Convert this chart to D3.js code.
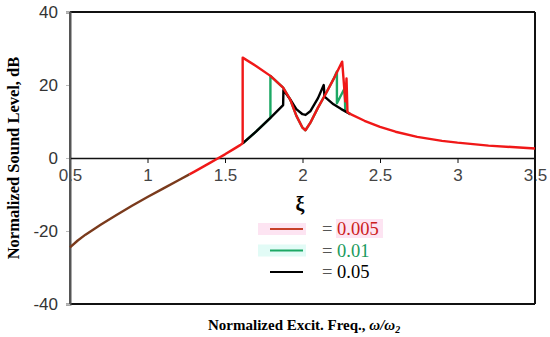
<!DOCTYPE html>
<html>
<head>
<meta charset="utf-8">
<script src="https://cdn.jsdelivr.net/npm/d3@7"></script>
<style>
  body { margin: 0; background: #fff; }
  svg text { font-family: "Liberation Sans", Arial, sans-serif; }
</style>
</head>
<body>
<div id="chart"></div>
<script>
// data (x = omega/omega2, y = dB)
var sharedLow = [[0.5,-24.5],[0.55,-22.6],[0.6,-21.0],[0.7,-18.2],[0.8,-15.6],[0.9,-13.1],[1.0,-10.7],[1.1,-8.4],[1.2,-6.1],[1.27,-4.5]];
var commonRise = [[1.27,-4.5],[1.3,-3.8],[1.4,-1.4],[1.45,-0.2],[1.5,1.0],[1.55,2.3],[1.6,3.6],[1.614,4.0]];
var commonTail = [[2.31,12.0],[2.4,10.2],[2.5,8.5],[2.6,7.2],[2.74,5.8],[2.9,4.7],[3.0,4.2],[3.2,3.4],[3.35,3.0],[3.5,2.6]];

var redMid = [[1.614,4.0],[1.614,27.5],[1.7,25.2],[1.793,22.5],[1.875,19.3],[1.922,15.9],[1.96,11.6],[2.0,8.3],[2.019,7.6],[2.05,9.6],[2.1,13.8],[2.15,17.6],[2.2,21.6],[2.256,26.4],[2.276,15.5],[2.284,21.8],[2.29,12.6],[2.31,12.0]];
var greenMid = [[1.614,4.0],[1.7,7.2],[1.793,11.0],[1.793,22.5],[1.875,19.3],[1.922,15.9],[1.96,11.6],[2.0,8.3],[2.019,7.6],[2.05,9.6],[2.1,13.8],[2.15,17.6],[2.2,21.6],[2.222,23.7],[2.222,15.0],[2.272,19.1],[2.276,12.8],[2.31,12.0]];
var blackMid = [[1.614,4.0],[1.7,7.2],[1.793,11.0],[1.875,14.5],[1.877,18.6],[1.922,16.0],[1.96,13.4],[2.0,12.0],[2.02,11.8],[2.05,12.8],[2.1,16.4],[2.137,20.0],[2.142,16.8],[2.2,14.7],[2.25,13.4],[2.31,12.0]];

var xTicks = [0.5, 1, 1.5, 2, 2.5, 3, 3.5];
var yTicks = [-40, -20, 0, 20, 40];
var legendLabels = ['0.005', '0.01', '0.05'];
var redColor = '#f01818';
var greenColor = '#1ca864';
var blackColor = '#000000';

var width = 550, height = 337;
var plotLeft = 70, plotRight = 535, plotTop = 12, plotBottom = 304;

var svg = d3.select('#chart').append('svg')
    .attr('width', width)
    .attr('height', height);

var xScale = d3.scaleLinear().domain([0.5, 3.5]).range([plotLeft, plotRight]);
var yScale = d3.scaleLinear().domain([-40, 40]).range([plotBottom, plotTop]);

// frame
svg.append('line').attr('x1', plotLeft).attr('x2', plotRight).attr('y1', plotTop).attr('y2', plotTop)
    .attr('stroke', '#111').attr('stroke-width', 2);
svg.append('line').attr('x1', plotLeft).attr('x2', plotRight).attr('y1', plotBottom).attr('y2', plotBottom)
    .attr('stroke', '#111').attr('stroke-width', 2);

// y axis
var yAxis = d3.axisLeft(yScale).tickValues(yTicks).tickSize(4).tickPadding(8)
    .tickFormat(function (d) { return String(d); });
var yg = svg.append('g').attr('transform', 'translate(' + plotLeft + ',0)').call(yAxis);
yg.select('.domain').attr('stroke', '#555').attr('stroke-width', 2);
yg.selectAll('.tick line').attr('stroke', '#bbb');
yg.selectAll('.tick text').style('font-size', '17px').attr('fill', '#333');

// x axis through zero
var xAxis = d3.axisBottom(xScale).tickValues(xTicks).tickSize(5).tickPadding(6)
    .tickSizeOuter(0).tickFormat(function (d) { return String(d); });
var xg = svg.append('g').attr('transform', 'translate(0,' + yScale(0) + ')').call(xAxis);
xg.select('.domain').attr('stroke', '#111').attr('stroke-width', 1.5);
xg.selectAll('.tick line').attr('stroke', '#111');
xg.selectAll('.tick text').style('font-size', '17px').attr('fill', '#444');

// redraw left and right lines over the tick labels
svg.append('line').attr('x1', plotLeft).attr('x2', plotLeft).attr('y1', plotTop).attr('y2', plotBottom)
    .attr('stroke', '#555').attr('stroke-width', 2);
svg.append('line').attr('x1', plotRight).attr('x2', plotRight).attr('y1', plotTop).attr('y2', plotBottom)
    .attr('stroke', '#111').attr('stroke-width', 2);

// curves
var line = d3.line()
    .x(function (d) { return xScale(d[0]); })
    .y(function (d) { return yScale(d[1]); });

var curves = svg.append('g').attr('fill', 'none').attr('stroke-width', 2.4)
    .attr('stroke-linejoin', 'round');

function drawCurve(data, color) {
    curves.append('path').datum(data).attr('d', line).attr('stroke', color);
}
drawCurve(greenMid, greenColor);
drawCurve(blackMid, blackColor);
drawCurve(redMid, redColor);
drawCurve(commonRise, redColor);
drawCurve(commonTail, redColor);
drawCurve(sharedLow, '#7a3a1c');

// legend
var legend = svg.append('g');
var legendColors = ['#c8402a', greenColor, blackColor];
var textColors = ['#cc2020', '#1a9a5c', '#000'];
var bgColors = ['#fde4f2', '#e2fbf6', null];

legend.append('text').attr('x', 300).attr('y', 211)
    .attr('text-anchor', 'middle')
    .style('font-family', '"Liberation Serif", serif')
    .style('font-weight', 'bold')
    .style('font-size', '20px')
    .text('ξ');

legendLabels.forEach(function (label, i) {
    var y = 229 + i * 21.5;
    if (bgColors[i]) {
        legend.append('rect').attr('x', 258).attr('y', y - 6).attr('width', 48).attr('height', 12)
            .attr('fill', bgColors[i]);
    }
    if (i === 0) {
        legend.append('rect').attr('x', 336).attr('y', y - 10).attr('width', 47).attr('height', 19)
            .attr('fill', bgColors[i]);
    }
    legend.append('line').attr('x1', 270).attr('x2', 303).attr('y1', y).attr('y2', y)
        .attr('stroke', legendColors[i]).attr('stroke-width', 2.2);
    var t = legend.append('text').attr('x', 322).attr('y', y + 6)
        .style('font-family', '"Liberation Serif", serif')
        .style('font-size', '18.5px');
    t.append('tspan').attr('fill', '#555').text('= ');
    t.append('tspan').attr('fill', textColors[i]).text(label);
});

// axis titles
svg.append('text')
    .attr('transform', 'translate(19,' + 158 + ') rotate(-90)')
    .attr('text-anchor', 'middle')
    .style('font-family', '"Liberation Serif", serif')
    .style('font-weight', 'bold')
    .style('font-size', '16.5px')
    .text('Normalized Sound Level, dB');

var xt = svg.append('text')
    .attr('x', 208).attr('y', 330)
    .style('font-family', '"Liberation Serif", serif')
    .style('font-weight', 'bold')
    .style('font-size', '15px');
xt.append('tspan').text('Normalized Excit. Freq.,  ');
xt.append('tspan').style('font-style', 'italic').text('ω/ω');
xt.append('tspan').style('font-style', 'italic').style('font-size', '10px').attr('dy', 3).text('2');
</script>
</body>
</html>
